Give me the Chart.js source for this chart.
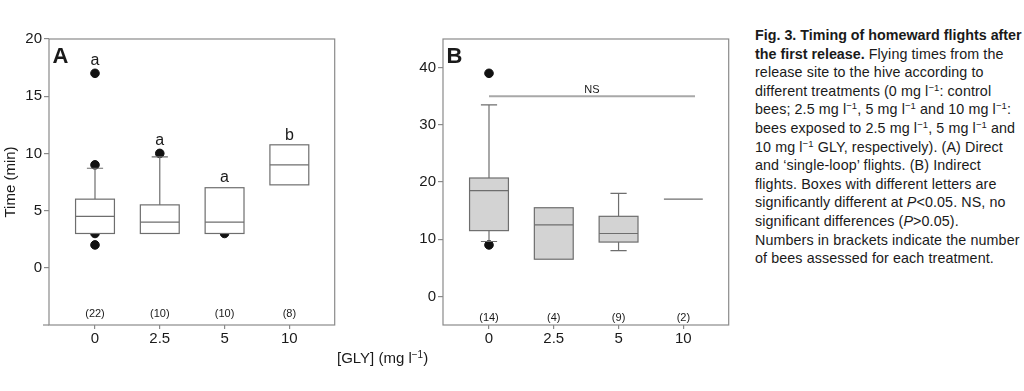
<!DOCTYPE html>
<html>
<head>
<meta charset="utf-8">
<script src="https://cdn.jsdelivr.net/npm/chart.js@4.4.1/dist/chart.umd.min.js"></script>
<style>
  html, body { margin: 0; padding: 0; background: #fff; }
  body { width: 1024px; height: 391px; position: relative; overflow: hidden; font-family: "Liberation Sans", Arial, sans-serif; color: #1a1a1a; }
  canvas { position: absolute; }
  #plotA { left: 0; top: 0; }
  #plotB { left: 394px; top: 0; }
  .xtitle { position: absolute; left: 337px; top: 349px; font-size: 15px; white-space: nowrap; }
  .xtitle sup { font-size: 10px; vertical-align: 5px; line-height: 0; }
  .caption { position: absolute; left: 755px; top: 26px; font-size: 14.3px; line-height: 18.6px; white-space: nowrap; color: #1a1a1a; }
  .caption .body { letter-spacing: 0.1px; }
  .caption sup { font-size: 9.5px; vertical-align: 5px; line-height: 0; }
</style>
</head>
<body>
<canvas id="plotA" width="340" height="350"></canvas>
<canvas id="plotB" width="340" height="350"></canvas>
<div class="xtitle">[GLY] (mg l<sup>−1</sup>)</div>
<div class="caption">
<b>Fig. 3. Timing of homeward flights after</b><br>
<b>the first release.</b><span class="body"> Flying times from the<br>
release site to the hive according to<br>
different treatments (0 mg l<sup>−1</sup>: control<br>
bees; 2.5 mg l<sup>−1</sup>, 5 mg l<sup>−1</sup> and 10 mg l<sup>−1</sup>:<br>
bees exposed to 2.5 mg l<sup>−1</sup>, 5 mg l<sup>−1</sup> and<br>
10 mg l<sup>−1</sup> GLY, respectively). (A) Direct<br>
and ‘single-loop’ flights. (B) Indirect<br>
flights. Boxes with different letters are<br>
significantly different at <i>P</i>&lt;0.05. NS, no<br>
significant differences (<i>P</i>&gt;0.05).<br>
Numbers in brackets indicate the number<br>
of bees assessed for each treatment.</span>
</div>
<script>
const doses = ["0", "2.5", "5", "10"];

// Panel A: direct and single-loop flights (min)
const aLow = [3, 3, 3, 7.25];
const aQ1 = [3, 3, 3, 7.25];
const aMedian = [4.5, 4, 4, 9];
const aQ3 = [6, 5.5, 7, 10.75];
const aHigh = [8.7, 9.7, 7, 10.75];
const aOutliers = [[17, 9, 3, 2], [10], [3], []];
const aLetters = ["a", "a", "a", "b"];
const aLetterAt = [18.1, 11.1, 7.85, 11.6];
const aCounts = ["(22)", "(10)", "(10)", "(8)"];
const aTicks = [0, 5, 10, 15, 20];

// Panel B: indirect flights (min)
const bLow = [9.6, 6.5, 8, 17];
const bQ1 = [11.5, 6.5, 9.5, 17];
const bMedian = [18.5, 12.5, 11, 17];
const bQ3 = [20.7, 15.5, 14, 17];
const bHigh = [33.5, 15.5, 18, 17];
const bOutliers = [[39, 9], [], [], []];
const bCounts = ["(14)", "(4)", "(9)", "(2)"];
const bTicks = [0, 10, 20, 30, 40];
const bNsLevel = 35;
const bNsFrom = 1;
const bNsTo = 4.18;

const FONT = '"Liberation Sans", Arial, sans-serif';
const INK = "#1a1a1a";
const EDGE = "#6e6e6e";

function outlierPoints(outliers) {
  const pts = [];
  outliers.forEach((list, i) => list.forEach((v) => pts.push({ x: i + 1, y: v })));
  return pts;
}

function makeBoxPlugin(panel) {
  return {
    id: "boxes" + panel.name,
    afterDatasetsDraw(chart) {
      const { ctx, chartArea, scales } = chart;
      const x = scales.x;
      const y = scales.y;
      const halfBox = x.getPixelForValue(1.3) - x.getPixelForValue(1);
      const halfCap = x.getPixelForValue(1.125) - x.getPixelForValue(1);
      ctx.save();
      ctx.lineWidth = 1.2;
      ctx.strokeStyle = EDGE;

      panel.median.forEach((m, i) => {
        const cx = x.getPixelForValue(i + 1);
        const yQ1 = y.getPixelForValue(panel.q1[i]);
        const yQ3 = y.getPixelForValue(panel.q3[i]);
        const yLo = y.getPixelForValue(panel.low[i]);
        const yHi = y.getPixelForValue(panel.high[i]);
        const yMed = y.getPixelForValue(m);

        // whiskers
        ctx.beginPath();
        if (panel.high[i] > panel.q3[i]) {
          ctx.moveTo(cx, yQ3); ctx.lineTo(cx, yHi);
          ctx.moveTo(cx - halfCap, yHi); ctx.lineTo(cx + halfCap, yHi);
        }
        if (panel.low[i] < panel.q1[i]) {
          ctx.moveTo(cx, yQ1); ctx.lineTo(cx, yLo);
          ctx.moveTo(cx - halfCap, yLo); ctx.lineTo(cx + halfCap, yLo);
        }
        ctx.stroke();

        // box
        if (yQ1 - yQ3 > 0.5) {
          ctx.fillStyle = panel.fill;
          ctx.fillRect(cx - halfBox, yQ3, halfBox * 2, yQ1 - yQ3);
          ctx.strokeRect(cx - halfBox, yQ3, halfBox * 2, yQ1 - yQ3);
        }
        ctx.beginPath();
        ctx.moveTo(cx - halfBox, yMed);
        ctx.lineTo(cx + halfBox, yMed);
        ctx.stroke();
      });

      // frame
      ctx.strokeStyle = "#8a8a8a";
      ctx.lineWidth = 1.2;
      ctx.strokeRect(chartArea.left, chartArea.top, chartArea.right - chartArea.left, chartArea.bottom - chartArea.top);
      if (panel.extendBase) {
        ctx.beginPath();
        ctx.moveTo(chartArea.left - 6, chartArea.bottom);
        ctx.lineTo(chartArea.left, chartArea.bottom);
        ctx.stroke();
      }

      // NS bar
      if (panel.ns) {
        const ny = y.getPixelForValue(panel.ns.level);
        ctx.strokeStyle = "#a8a8a8";
        ctx.lineWidth = 2;
        ctx.beginPath();
        ctx.moveTo(x.getPixelForValue(panel.ns.from), ny);
        ctx.lineTo(x.getPixelForValue(panel.ns.to), ny);
        ctx.stroke();
        ctx.fillStyle = INK;
        ctx.font = "11px " + FONT;
        ctx.textAlign = "center";
        ctx.textBaseline = "bottom";
        ctx.fillText("NS", x.getPixelForValue((panel.ns.from + panel.ns.to) / 2), ny - 1);
      }

      // letters above boxes
      ctx.fillStyle = INK;
      ctx.textAlign = "center";
      ctx.textBaseline = "middle";
      if (panel.letters) {
        ctx.font = "16px " + FONT;
        panel.letters.forEach((t, i) => {
          ctx.fillText(t, x.getPixelForValue(i + 1), y.getPixelForValue(panel.letterAt[i]));
        });
      }

      // sample sizes
      ctx.font = "11px " + FONT;
      panel.counts.forEach((t, i) => {
        ctx.fillText(t, x.getPixelForValue(i + 1), y.getPixelForValue(panel.countAt));
      });

      // panel label
      ctx.font = "bold 22px " + FONT;
      ctx.textAlign = "left";
      ctx.textBaseline = "alphabetic";
      ctx.fillText(panel.name, chartArea.left + 3.5, chartArea.top + 23.5);
      ctx.restore();
    },
  };
}

function makePanel(id, panel) {
  return new Chart(document.getElementById(id), {
    type: "scatter",
    data: {
      datasets: [
        {
          data: outlierPoints(panel.outliers),
          backgroundColor: "#111",
          borderColor: "#111",
          pointRadius: 4.3,
          pointHoverRadius: 4.3,
        },
      ],
    },
    options: {
      responsive: false,
      animation: false,
      devicePixelRatio: 1,
      layout: { padding: { top: 39, right: 4, left: 0, bottom: 0 } },
      plugins: { legend: { display: false }, tooltip: { enabled: false } },
      scales: {
        x: {
          type: "linear",
          min: 0.29,
          max: 4.7,
          afterBuildTicks: (s) => { s.ticks = doses.map((_, i) => ({ value: i + 1 })); },
          afterFit: (s) => { s.height = 25; },
          ticks: { callback: (v, i) => doses[i], color: INK, font: { family: FONT, size: 15 }, padding: 1, maxRotation: 0 },
          grid: { drawOnChartArea: false, tickLength: 4, color: "#8a8a8a", lineWidth: 1.2 },
          border: { display: false },
        },
        y: {
          min: panel.yMin,
          max: panel.yMax,
          afterBuildTicks: (s) => { s.ticks = panel.ticks.map((v) => ({ value: v })); },
          afterFit: (s) => { s.width = 49; },
          ticks: { color: INK, font: { family: FONT, size: 15 }, padding: 2 },
          grid: { drawOnChartArea: false, tickLength: 5, color: "#8a8a8a", lineWidth: 1.2 },
          border: { display: false },
          title: {
            display: !!panel.yTitle,
            text: panel.yTitle || "",
            color: INK,
            font: { family: FONT, size: 15 },
            padding: { top: 2, bottom: 0 },
          },
        },
      },
    },
    plugins: [makeBoxPlugin(panel)],
  });
}

makePanel("plotA", {
  name: "A",
  yMin: -5, yMax: 20, ticks: aTicks, yTitle: "Time (min)",
  low: aLow, q1: aQ1, median: aMedian, q3: aQ3, high: aHigh, outliers: aOutliers,
  letters: aLetters, letterAt: aLetterAt,
  counts: aCounts, countAt: -4,
  fill: "#ffffff", extendBase: true,
});

makePanel("plotB", {
  name: "B",
  yMin: -5, yMax: 45, ticks: bTicks,
  low: bLow, q1: bQ1, median: bMedian, q3: bQ3, high: bHigh, outliers: bOutliers,
  counts: bCounts, countAt: -3.7,
  fill: "#d3d3d3",
  ns: { level: bNsLevel, from: bNsFrom, to: bNsTo },
});
</script>
</body>
</html>
